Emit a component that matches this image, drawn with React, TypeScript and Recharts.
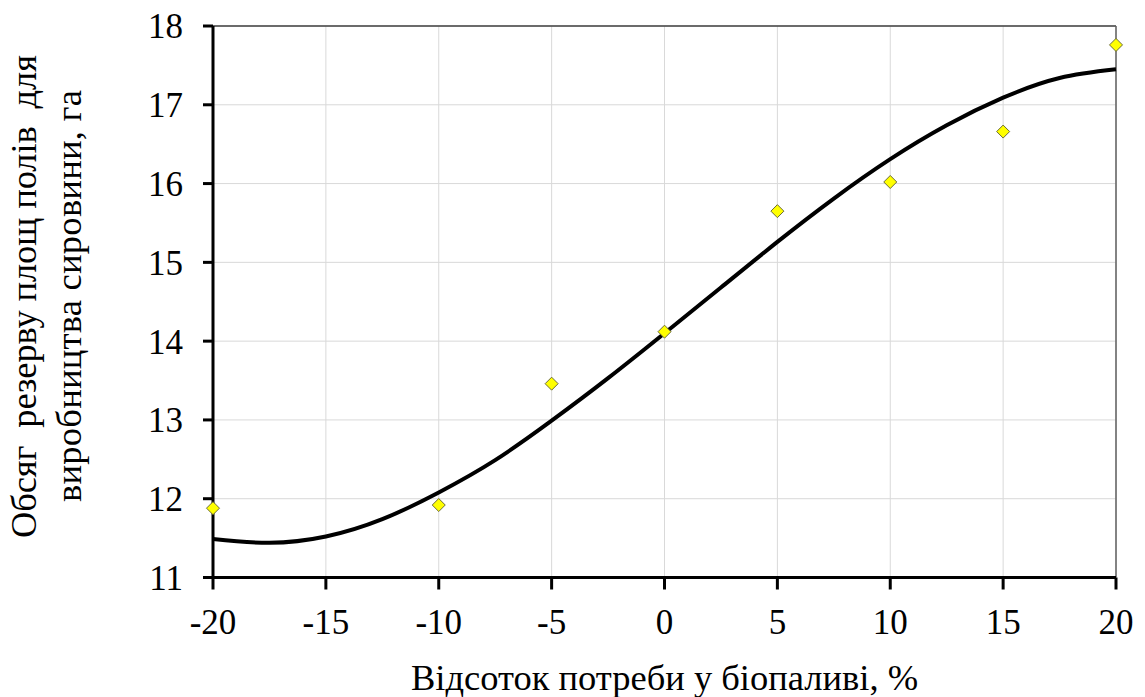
import React from "react";
import {
  ComposedChart,
  Line,
  Scatter,
  XAxis,
  YAxis,
  CartesianGrid,
  ReferenceLine,
} from "recharts";

const pointX = [-20, -10, -5, 0, 5, 10, 15, 20];
const pointY = [11.88, 11.92, 13.46, 14.12, 15.65, 16.02, 16.66, 17.76];

const curveX = [-20, -17.5, -15, -12.5, -10, -7.5, -5, -2.5, 0, 2.5, 5, 7.5, 10, 12.5, 15, 17.5, 20];
const curveY = [11.49, 11.44, 11.52, 11.74, 12.08, 12.49, 12.99, 13.53, 14.1, 14.68, 15.26, 15.81, 16.31, 16.74, 17.09, 17.34, 17.45];

const xTicks = [-20, -15, -10, -5, 0, 5, 10, 15, 20];
const yTicks = [11, 12, 13, 14, 15, 16, 17, 18];

const xTitle = "Відсоток потреби у біопаливі, %";
const yTitle1 = "Обсяг  резерву площ полів  для";
const yTitle2 = "виробництва сировини, га";

const points = pointX.map((x, i) => ({ x, y: pointY[i] }));
const curve = curveX.map((x, i) => ({ x, y: curveY[i] }));

const FONT = "Liberation Serif";
const TITLE_SIZE = 36.5;
const TICK_SIZE = 35;

const Diamond = (props: any) => {
  const { cx, cy } = props;
  if (cx == null || cy == null) return null;
  const r = 6.5;
  return (
    <polygon
      points={`${cx},${cy - r} ${cx + r},${cy} ${cx},${cy + r} ${cx - r},${cy}`}
      fill="#ffff00"
      stroke="#6b6b3a"
      strokeWidth={1}
    />
  );
};

const YTitle = () => {
  const st = { whiteSpace: "pre" as const, fontFamily: FONT, fontSize: TITLE_SIZE };
  return (
    <g fill="#000">
      <text
        x={36}
        y={296.5}
        transform={`rotate(-90, 36, 296.5)`}
        textAnchor="middle"
        textLength={483}
        lengthAdjust="spacing"
        style={st}
      >
        {yTitle1}
      </text>
      <text
        x={81}
        y={296}
        transform={`rotate(-90, 81, 296)`}
        textAnchor="middle"
        textLength={412}
        lengthAdjust="spacing"
        style={st}
      >
        {yTitle2}
      </text>
    </g>
  );
};

const XTitle = (props: any) => {
  const vb = props.viewBox || { x: 213, width: 903 };
  return (
    <text
      x={vb.x + vb.width / 2}
      y={690}
      textAnchor="middle"
      fill="#000"
      style={{ fontFamily: FONT, fontSize: TITLE_SIZE }}
    >
      {xTitle}
    </text>
  );
};

export default function App() {
  return (
    <div style={{ position: "absolute", left: 0, top: 0, background: "#fff", fontFamily: FONT }}>
      <ComposedChart
        width={1145}
        height={697}
        margin={{ top: 26, right: 29, left: 0, bottom: 0 }}
        style={{ fontFamily: FONT }}
      >
        <CartesianGrid stroke="#d9d9d9" strokeWidth={1} />
        <XAxis
          type="number"
          dataKey="x"
          domain={[-20, 20]}
          ticks={xTicks}
          interval={0}
          height={119.5}
          tickSize={12}
          tickMargin={20}
          axisLine={{ stroke: "#000", strokeWidth: 3 }}
          tickLine={{ stroke: "#000", strokeWidth: 3 }}
          tick={{ fontFamily: FONT, fontSize: TICK_SIZE, fill: "#000" }}
          label={<XTitle />}
        />
        <YAxis
          type="number"
          dataKey="y"
          domain={[11, 18]}
          ticks={yTicks}
          interval={0}
          width={213}
          tickSize={10}
          tickMargin={20}
          axisLine={{ stroke: "#000", strokeWidth: 3 }}
          tickLine={{ stroke: "#000", strokeWidth: 3 }}
          tick={{ fontFamily: FONT, fontSize: TICK_SIZE, fill: "#000" }}
          label={<YTitle />}
        />
        <ReferenceLine y={18} stroke="#404040" strokeWidth={1.5} />
        <ReferenceLine x={20} stroke="#606060" strokeWidth={1.5} />
        <Line
          data={curve}
          dataKey="y"
          type="natural"
          stroke="#000"
          strokeWidth={4}
          dot={false}
          activeDot={false}
          isAnimationActive={false}
        />
        <Scatter
          data={points}
          dataKey="y"
          shape={Diamond}
          isAnimationActive={false}
        />
      </ComposedChart>
    </div>
  );
}
